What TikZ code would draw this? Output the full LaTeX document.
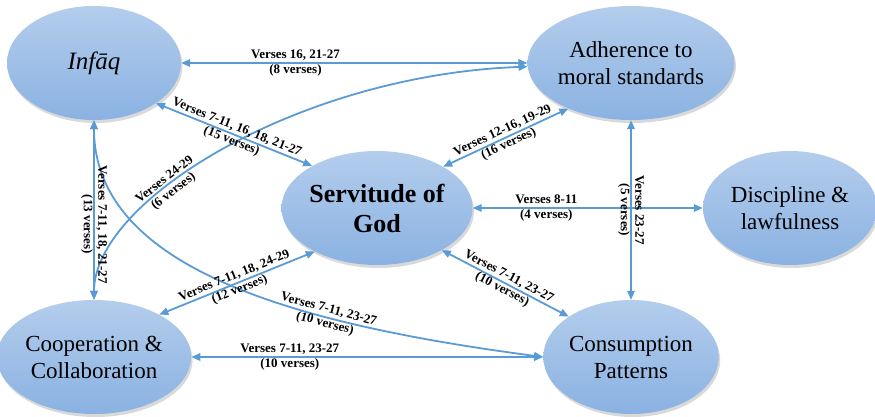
\documentclass[tikz,border=0pt]{standalone}
\usepackage{fontspec}
\setmainfont{Liberation Serif}
\usetikzlibrary{shapes.geometric,arrows.meta,shadows}
\definecolor{linkblue}{RGB}{91,155,213}
\definecolor{balltop}{RGB}{180,205,236}
\definecolor{ballbot}{RGB}{138,178,226}

\begin{document}
\begin{tikzpicture}[x=1pt,y=-1pt,
  topic/.style={ellipse,minimum width=174pt,minimum height=114pt,inner sep=0pt,top color=balltop,bottom color=ballbot,drop shadow={shadow xshift=1.5pt,shadow yshift=-3pt,opacity=.3},align=center,font=\fontsize{23}{27}\selectfont},
  link/.style={<->,>={Triangle[length=9pt,width=7.5pt]},line width=1.8pt,linkblue,draw},
  verses/.style={align=center,text=black,inner sep=1pt,font=\bfseries\fontsize{13}{14.5}\selectfont}]

    \useasboundingbox (0,0) rectangle (875,416);
    \node[topic,font=\itshape\fontsize{25}{27}\selectfont] (infaq) at (94,63) {Infāq};
    \node[topic] (adh) at (631,63) {Adherence to\\moral standards};
    \node[topic,font=\bfseries\fontsize{26}{30}\selectfont] (serv) at (377,208) {Servitude of\\God};
    \node[topic] (disc) at (790,208) {Discipline \&\\lawfulness};
    \node[topic] (coop) at (94,357) {Cooperation \&\\Collaboration};
    \node[topic] (cons) at (631,357) {Consumption\\Patterns};

    \path[link] (infaq) -- node[verses,pos=.33] {Verses 16, 21-27\\(8 verses)} (adh);
    \path[link] (coop.north) .. controls (94,200) and (300,75) .. node[verses,pos=.37,sloped] {Verses 24-29\\(6 verses)} (adh.182);
    \path[link] (infaq.south) .. controls (94,270) and (300,325) .. node[verses,pos=.68,sloped] {Verses 7-11, 23-27\\(10 verses)} (cons.west);
    \path[link] (infaq) -- node[verses,pos=.58,rotate=-90] {Verses 7-11, 18, 21-27\\(13 verses)} (coop);
    \path[link] (infaq.-33) -- node[verses,sloped] {Verses 7-11, 16, 18, 21-27\\(15 verses)} (serv.147);
    \path[link] (serv.32) -- node[verses,sloped] {Verses 12-16, 19-29\\(16 verses)} (adh.-144);
    \path[link] (serv) -- node[verses,pos=.32] {Verses 8-11\\(4 verses)} (disc);
    \path[link] (adh) -- node[verses,rotate=-90] {Verses 23-27\\(5 verses)} (cons);
    \path[link] (serv.-145) -- node[verses,sloped] {Verses 7-11, 18, 24-29\\(12 verses)} (coop.33);
    \path[link] (serv.-33) -- node[verses,sloped] {Verses 7-11, 23-27\\(10 verses)} (cons.147);
    \path[link] (coop) -- node[verses,pos=.28] {Verses 7-11, 23-27\\(10 verses)} (cons);

  \end{tikzpicture}
\end{document}
